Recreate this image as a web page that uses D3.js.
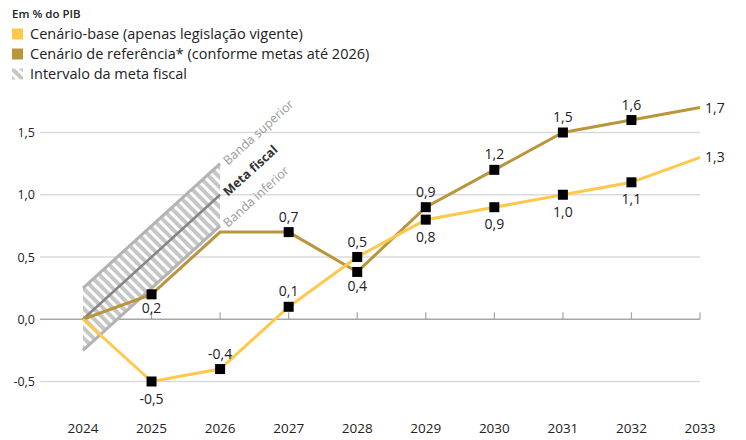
<!DOCTYPE html>
<html>
<head>
<meta charset="utf-8">
<script src="https://cdn.jsdelivr.net/npm/d3@7"></script>
<style>
  body { margin: 0; background: #fff; }
  svg { display: block; font-family: "Open Sans", "Noto Sans", sans-serif; }
</style>
</head>
<body>
<svg width="746" height="440"></svg>
<script>
// data
const years = [2024, 2025, 2026, 2027, 2028, 2029, 2030, 2031, 2032, 2033];
const baseValues = [0, -0.5, -0.4, 0.1, 0.5, 0.8, 0.9, 1.0, 1.1, 1.3];     // Cenário-base
const refValues  = [0, 0.2, 0.7, 0.7, 0.38, 0.9, 1.2, 1.5, 1.6, 1.7];      // Cenário de referência
const refLabels  = ["", "0,2", "", "0,7", "0,4", "0,9", "1,2", "1,5", "1,6", "1,7"];
const baseLabels = ["", "-0,5", "-0,4", "0,1", "0,5", "0,8", "0,9", "1,0", "1,1", "1,3"];
const metaYears = [2024, 2026];
const metaValues = [0, 1.0];
const metaBand = 0.25;
const yTicks = [-0.5, 0, 0.5, 1.0, 1.5];
const yTickLabels = ["-0,5", "0,0", "0,5", "1,0", "1,5"];
const legendItems = ["Cenário-base (apenas legislação vigente)", "Cenário de referência* (conforme metas até 2026)", "Intervalo da meta fiscal"];

const baseColor = "#ffc84a";
const refColor = "#b9963b";

let svg = d3.select("svg");

let x = d3.scaleLinear().domain([2024, 2033]).range([83, 700]);
let y = d3.scaleLinear().domain([-0.5, 1.5]).range([381.5, 132.5]);

// hatch pattern for the meta band ("\" stripes)
let defs = svg.append("defs");
let pat = defs.append("pattern")
  .attr("id", "hatch")
  .attr("patternUnits", "userSpaceOnUse")
  .attr("width", 7).attr("height", 7)
  .attr("patternTransform", "rotate(-45)");
pat.append("rect").attr("width", 7).attr("height", 7).attr("fill", "#fff");
pat.append("rect").attr("width", 4).attr("height", 7).attr("fill", "#c6c6c6");

// gridlines
svg.append("g").selectAll("line")
  .data(yTicks)
  .enter().append("line")
  .attr("x1", 40).attr("x2", 700)
  .attr("y1", d => y(d)).attr("y2", d => y(d))
  .attr("stroke", d => d === 0 ? "#a6a6a6" : "#dadada")
  .attr("stroke-width", d => d === 0 ? 1.6 : 1.3);

// y axis labels
svg.append("g").selectAll("text")
  .data(yTicks)
  .enter().append("text")
  .attr("x", 35).attr("y", d => y(d) + 4.5)
  .attr("text-anchor", "end")
  .attr("font-size", 12.5)
  .attr("fill", "#222")
  .text((d, i) => yTickLabels[i]);

// small ticks on the zero line
svg.append("g").selectAll("line")
  .data(years.slice(1))
  .enter().append("line")
  .attr("x1", d => x(d)).attr("x2", d => x(d))
  .attr("y1", y(0) - 7).attr("y2", y(0))
  .attr("stroke", "#a6a6a6").attr("stroke-width", 1.2);

// x axis labels
svg.append("g").selectAll("text")
  .data(years)
  .enter().append("text")
  .attr("x", d => x(d)).attr("y", 433)
  .attr("text-anchor", "middle")
  .attr("font-size", 13.5)
  .attr("fill", "#222")
  .text(d => d);

// meta fiscal band
let band = metaYears.map((yr, i) => ({yr: yr, v: metaValues[i]}));
svg.append("path")
  .datum(band)
  .attr("d", d3.area().x(d => x(d.yr)).y0(d => y(d.v - metaBand)).y1(d => y(d.v + metaBand)))
  .attr("fill", "url(#hatch)");
[metaBand, -metaBand].forEach(off => {
  svg.append("path")
    .datum(band)
    .attr("d", d3.line().x(d => x(d.yr)).y(d => y(d.v + off)))
    .attr("fill", "none").attr("stroke", "#b3b3b3").attr("stroke-width", 3);
});
svg.append("path")
  .datum(band)
  .attr("d", d3.line().x(d => x(d.yr)).y(d => y(d.v)))
  .attr("fill", "none").attr("stroke", "#858585").attr("stroke-width", 2.5);

// band labels, rotated along the band slope
let angle = Math.atan2(y(metaValues[1]) - y(metaValues[0]), x(metaYears[1]) - x(metaYears[0])) * 180 / Math.PI;
[["Banda superior", metaBand, "#9a9a9a", "normal"],
 ["Meta fiscal", 0, "#333", "bold"],
 ["Banda inferior", -metaBand, "#9a9a9a", "normal"]].forEach(b => {
  let bx = x(metaYears[1]) + 8, by = y(metaValues[1] + b[1]) + 2;
  svg.append("text")
    .attr("transform", `translate(${bx},${by}) rotate(${angle})`)
    .attr("font-size", 12.5)
    .attr("font-weight", b[3])
    .attr("fill", b[2])
    .text(b[0]);
});

// series lines
let line = d3.line().x(d => x(d.yr)).y(d => y(d.v));
let baseData = years.map((yr, i) => ({yr: yr, v: baseValues[i], label: baseLabels[i]}));
let refData = years.map((yr, i) => ({yr: yr, v: refValues[i], label: refLabels[i]}));

svg.append("path").datum(refData).attr("d", line)
  .attr("fill", "none").attr("stroke", refColor).attr("stroke-width", 3);
svg.append("path").datum(baseData).attr("d", line)
  .attr("fill", "none").attr("stroke", baseColor).attr("stroke-width", 3);

// markers (no marker on the first and last year, nor on the 2026 reference point)
let baseMarks = baseData.filter(d => d.yr > 2024 && d.yr < 2033);
let refMarks = refData.filter(d => d.yr > 2024 && d.yr < 2033 && d.yr !== 2026);
svg.append("g").selectAll("rect")
  .data(refMarks.concat(baseMarks))
  .enter().append("rect")
  .attr("x", d => x(d.yr) - 5).attr("y", d => y(d.v) - 5)
  .attr("width", 10).attr("height", 10)
  .attr("fill", "#000");

// value labels
const baseBelow = [2025, 2029, 2030, 2031, 2032];
const refBelow = [2025, 2028];
function addLabels(data, below, belowGap) {
  svg.append("g").selectAll("text")
    .data(data.filter(d => d.label !== ""))
    .enter().append("text")
    .attr("x", d => d.yr === 2033 ? x(d.yr) + 5 : x(d.yr))
    .attr("y", d => d.yr === 2033 ? y(d.v) + 5 : (below.includes(d.yr) ? y(d.v) + belowGap : y(d.v) - 10.5))
    .attr("text-anchor", d => d.yr === 2033 ? "start" : "middle")
    .attr("font-size", 14)
    .attr("fill", "#222")
    .text(d => d.label);
}
addLabels(baseData, baseBelow, 22);
addLabels(refData, refBelow, 19);

// legend
svg.append("text")
  .attr("x", 12).attr("y", 18)
  .attr("font-size", 11.5).attr("font-weight", 600)
  .attr("fill", "#222")
  .text("Em % do PIB");
let leg = svg.append("g");
let legFills = [baseColor, refColor, "url(#hatch)"];
let legY = [34, 54, 74];
legendItems.forEach((t, i) => {
  leg.append("rect")
    .attr("x", 12).attr("y", legY[i] - 5.5)
    .attr("width", 11).attr("height", 11)
    .attr("fill", legFills[i]);
  leg.append("text")
    .attr("x", 30).attr("y", legY[i] + 5)
    .attr("font-size", 14.5)
    .attr("fill", "#222")
    .text(t);
});
</script>
</body>
</html>
